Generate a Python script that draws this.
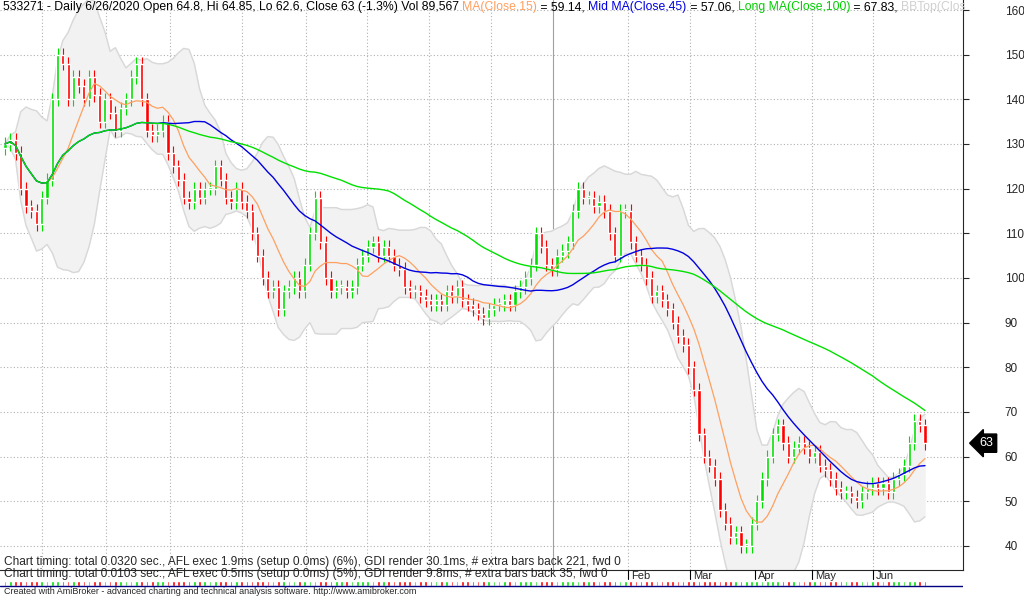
import numpy as np, pandas as pd, seaborn as sns, matplotlib
matplotlib.use("Agg")
import matplotlib.pyplot as plt
from matplotlib.offsetbox import TextArea, HPacker, AnchoredOffsetbox

sns.set_style("white")
plt.rcParams['font.family'] = ['Liberation Sans', 'DejaVu Sans']

closes = [130,131,128,120,116,115,112,118,122,140,150,148,140,145,143,140,145,141,135,140,137,133,138,140,145,148,140,133,132,133,
          135,128,125,122,118,117,120,118,120,120,125,122,118,117,120,117,115,110,105,100,97,98,93,97,98,100,97,103,110,118,
          108,100,97,98,98,97,98,103,105,107,108,105,107,105,103,102,98,97,97,96,95,94,95,94,97,96,98,95,94,93,
          92,91,93,94,94,95,94,97,98,100,103,110,107,103,102,105,106,108,115,120,118,118,116,117,115,110,105,115,115,108,
          105,103,100,96,97,95,93,90,87,85,80,75,65,60,58,55,48,45,42,43,40,40,45,50,55,60,65,67,63,60,
          62,63,62,60,61,58,57,55,53,52,52,51,50,52,53,54,53,54,52,55,56,58,63,68,67,63]
month_px = [628, 690, 755, 812, 873]
month_labels = ["Feb", "Mar", "Apr", "May", "Jun"]

n = len(closes)
step = (925 - 5) / (n - 1)
def px2x(p):
    return (p - 5) / step

c = pd.Series(closes, dtype=float)
o = c.shift(1).fillna(c.iloc[0] - 1)
idx = np.arange(n)
ma15 = c.rolling(9, min_periods=1).mean()
ma45 = c.rolling(30, min_periods=1).mean()
ma100 = c.rolling(65, min_periods=1).mean()
mid = c.rolling(12, min_periods=1).mean()
sd = c.rolling(12, min_periods=1).std().fillna(0)
bbt, bbb = mid + 2 * sd, mid - 2 * sd

fig = plt.figure(figsize=(10.24, 5.99), dpi=100)
ax = fig.add_axes([0.0, 1 - 570 / 599, 963 / 1024, 570 / 599])
ax.set_xlim(px2x(0), px2x(963))
ax.set_ylim(34.6, 162.24)
ax.fill_between(idx, bbb, bbt, color="#f2f2f2", zorder=1)
ax.plot(idx, bbt, color="#d8d8d8", lw=1, zorder=1)
ax.plot(idx, bbb, color="#d8d8d8", lw=1, zorder=1)
for v in range(40, 161, 10):
    ax.axhline(v, color="#b0b0b0", ls=(0, (1, 2)), lw=0.8, zorder=0)
for px in [42, 106, 170, 242, 306, 367, 429, 491] + month_px:
    ax.axvline(px2x(px), color="#b0b0b0", ls=(0, (1, 2)), lw=0.8, zorder=0)
ax.axvline(px2x(553), color="#a0a0a0", lw=0.8, zorder=0)

up = c >= o
cols = np.where(up, "#00e000", "#ff0000")
hi = np.maximum(o, c) + 1.5
lo = np.minimum(o, c) - 1.5
ax.vlines(idx, lo, hi, colors=cols, lw=0.8, zorder=3)
ax.bar(idx, (c - o).abs().clip(lower=0.4), bottom=np.minimum(o, c), width=0.6, color=cols, zorder=3)
sns.lineplot(x=idx, y=ma15, ax=ax, color="#ffa060", lw=0.9, zorder=4)
sns.lineplot(x=idx, y=ma45, ax=ax, color="#0000e0", lw=1.0, zorder=4)
sns.lineplot(x=idx, y=ma100, ax=ax, color="#00e000", lw=1.0, zorder=4)

ax.set_xticks([]); ax.set_xlabel(""); ax.set_ylabel("")
ax.yaxis.tick_right()
ax.set_yticks(range(40, 161, 10))
ax.tick_params(axis="y", length=4, labelsize=8.5, pad=26, direction="out")
for s in ["top", "left"]:
    ax.spines[s].set_visible(False)

ax.annotate(f"{closes[-1]}", xy=(1.0, (63 - 34.6) / (162.24 - 34.6)), xycoords="axes fraction",
            xytext=(17, 0), textcoords="offset points", ha="center", va="center", fontsize=9, color="white",
            bbox=dict(boxstyle="larrow,pad=0.25", fc="black", ec="black"))

bx = fig.add_axes([0.0, 1 - 588 / 599, 963 / 1024, 18 / 599])
bx.set_xlim(px2x(0), px2x(963)); bx.set_ylim(0, 3)
bx.bar(idx, 0.8, bottom=0.3, width=0.5, color=cols)
bx.axhline(0.3, color="#000080", lw=1)
for p, l in zip(month_px, month_labels):
    bx.axvline(px2x(p), ymin=0.5, ymax=1, color="black", lw=0.8)
    bx.text(px2x(p) + 0.5, 2.0, l, fontsize=8, va="center", ha="left")
bx.axis("off")

segs = [("533271 - Daily 6/26/2020 Open 64.8, Hi 64.85, Lo 62.6, Close 63 (-1.3%) Vol 89,567 ", "black"),
        ("MA(Close,15)", "#ffa060"), (" = 59.14, ", "black"), ("Mid MA(Close,45)", "#0000e0"),
        (" = 57.06, ", "black"), ("Long MA(Close,100)", "#00d000"), (" = 67.83, ", "black"), ("BBTop(Clos", "#d0d0d0")]
box = HPacker(children=[TextArea(t, textprops=dict(color=col, fontsize=8.8)) for t, col in segs], pad=0, sep=0)
fig.add_artist(AnchoredOffsetbox(loc="upper left", child=box, bbox_to_anchor=(0.003, 0.998),
                                 bbox_transform=fig.transFigure, frameon=False, pad=0, borderpad=0))
fig.text(0.004, 1 - 562 / 599, "Chart timing: total 0.0320 sec., AFL exec 1.9ms (setup 0.0ms) (6%), GDI render 30.1ms, # extra bars back 221, fwd 0", fontsize=8.6, va="center")
fig.text(0.004, 1 - 574 / 599, "Chart timing: total 0.0103 sec., AFL exec 0.5ms (setup 0.0ms) (5%), GDI render 9.8ms, # extra bars back 35, fwd 0", fontsize=8.6, va="center")
fig.text(0.004, 1 - 592 / 599, "Created with AmiBroker - advanced charting and technical analysis software. http://www.amibroker.com", fontsize=6.5, va="center")
fig.savefig("out.png", dpi=100, facecolor="white")
